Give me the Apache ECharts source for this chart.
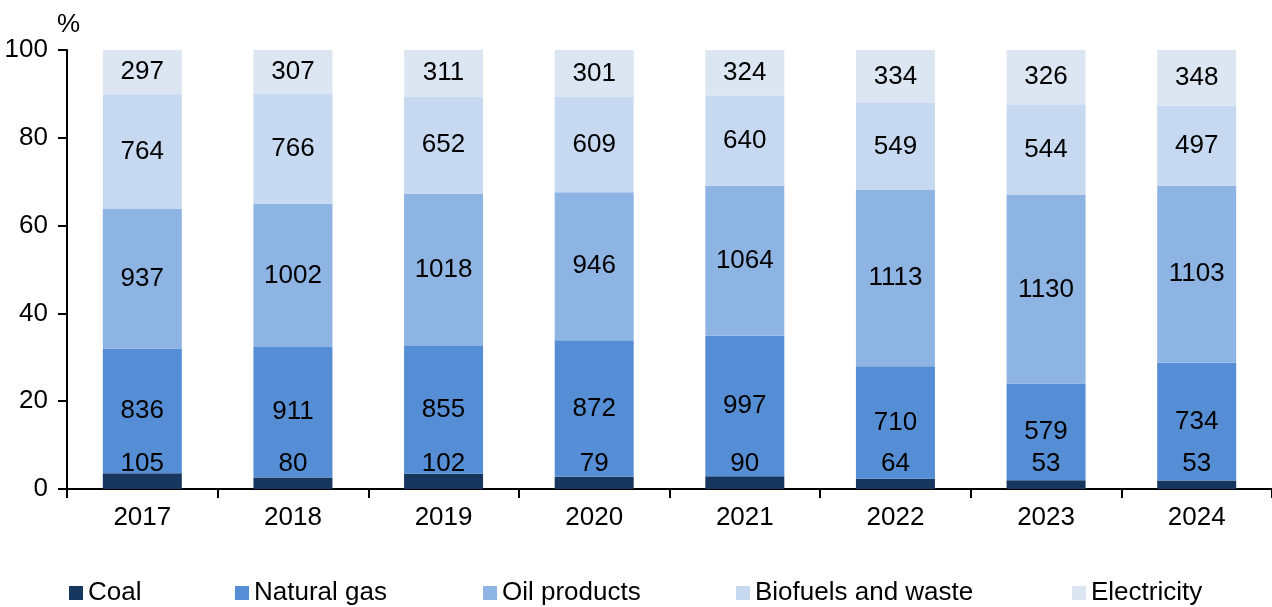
<!DOCTYPE html>
<html>
<head>
<meta charset="utf-8">
<script src="https://cdn.jsdelivr.net/npm/echarts@6/dist/echarts.min.js"></script>
<style>html,body{margin:0;padding:0;background:#fff}#c{width:1272px;height:607px}</style>
</head>
<body>
<div id="c"></div>
<script>
const years = ['2017','2018','2019','2020','2021','2022','2023','2024'];
const coal = [105, 80, 102, 79, 90, 64, 53, 53];
const naturalGas = [836, 911, 855, 872, 997, 710, 579, 734];
const oilProducts = [937, 1002, 1018, 946, 1064, 1113, 1130, 1103];
const biofuels = [764, 766, 652, 609, 640, 549, 544, 497];
const electricity = [297, 307, 311, 301, 324, 334, 326, 348];
const yTicks = [0, 20, 40, 60, 80, 100];

const names = ['Coal', 'Natural gas', 'Oil products', 'Biofuels and waste', 'Electricity'];
const raw = [coal, naturalGas, oilProducts, biofuels, electricity];
const colors = ['#17375E', '#558ED5', '#8EB4E3', '#C6D9F1', '#DCE6F2'];
const totals = years.map((_, i) => raw.reduce((s, a) => s + a[i], 0));

const FONT = 'Liberation Sans, Arial, sans-serif';
const FS = 26;
const series = raw.map((arr, k) => ({
  name: names[k],
  type: 'bar',
  stack: 'total',
  barWidth: 79,
  itemStyle: { color: colors[k] },
  data: arr.map((v, i) => v / totals[i] * 100),
  label: {
    show: true,
    position: k === 0 ? 'insideBottom' : 'inside',
    distance: k === 0 ? 12 : 5,
    color: '#000',
    fontFamily: FONT,
    fontSize: FS,
    formatter: p => String(arr[p.dataIndex])
  }
}));

const legendLefts = [64, 230, 478, 731, 1067];
const legends = names.map((n, k) => ({
  data: [n],
  left: legendLefts[k],
  top: 575,
  itemWidth: 14,
  itemHeight: 14,
  icon: 'rect',
  textStyle: { fontFamily: FONT, fontSize: FS, color: '#000' },
  selectedMode: false
}));

const chart = echarts.init(document.getElementById('c'), null, { renderer: 'canvas' });
chart.setOption({
  animation: false,
  title: { text: '%', left: 52, top: 7, textStyle: { fontFamily: FONT, fontSize: FS, fontWeight: 'normal', color: '#000' } },
  legend: legends,
  grid: { left: 67, right: 0, top: 50, bottom: 607 - 489, containLabel: false },
  xAxis: {
    type: 'category',
    data: years,
    axisLine: { lineStyle: { color: '#000', width: 2 } },
    axisTick: { show: true, length: 9, lineStyle: { color: '#000', width: 2 } },
    axisLabel: { color: '#000', fontFamily: FONT, fontSize: FS, margin: 16 }
  },
  yAxis: {
    type: 'value',
    min: yTicks[0],
    max: yTicks[yTicks.length - 1],
    interval: yTicks[1] - yTicks[0],
    splitLine: { show: false },
    axisLine: { show: true, lineStyle: { color: '#000', width: 2 } },
    axisTick: { show: true, length: 9, lineStyle: { color: '#000', width: 2 } },
    axisLabel: { color: '#000', fontFamily: FONT, fontSize: FS, margin: 19 }
  },
  series: series
});
</script>
</body>
</html>
